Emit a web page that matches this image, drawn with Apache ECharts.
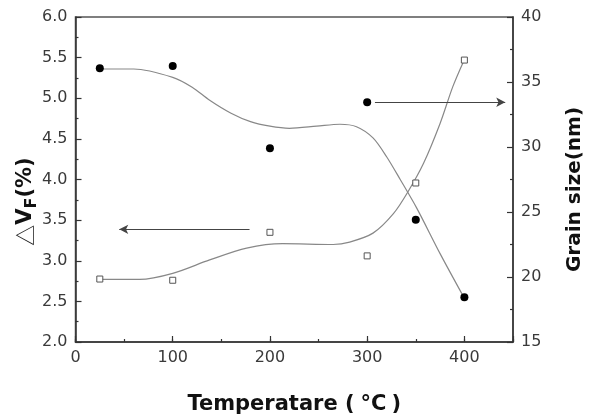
<!DOCTYPE html>
<html>
<head>
<meta charset="utf-8">
<script src="https://cdn.jsdelivr.net/npm/echarts@6/dist/echarts.min.js"></script>
<style>html,body{margin:0;padding:0;background:#fff}#c{width:604px;height:416px}</style>
</head>
<body>
<div id="c"></div>
<script>
// Measured points
var temps = [25, 100, 200, 300, 350, 400];
var grainSize = [36.05, 36.23, 29.9, 33.44, 24.41, 18.44];   // right axis (nm)
var deltaVF = [2.775, 2.76, 3.35, 3.06, 3.957, 5.47];        // left axis (%)

// Fitted curves
var fitGsX = [25, 60, 100, 120, 138, 160, 180, 200, 220, 248, 272, 289, 306, 320, 334, 351, 375, 399];
var fitGsY = [36.0, 36.0, 35.36, 34.6, 33.6, 32.6, 31.95, 31.6, 31.44, 31.6, 31.75, 31.56, 30.7, 29.25, 27.5, 25.3, 21.8, 18.5];
var fitVfX = [25, 66, 100, 138, 176, 213, 265, 282, 306, 327, 342, 358, 375, 388, 399];
var fitVfY = [2.77, 2.77, 2.845, 3.01, 3.155, 3.21, 3.2, 3.23, 3.34, 3.58, 3.85, 4.2, 4.69, 5.14, 5.45];

// Arrow annotations [x1, y1, x2, y2] in data units
var arrowRight = [308, 33.44, 442, 33.44];  // points to Grain size axis
var arrowLeft = [179, 3.387, 45, 3.387];    // points to ΔVF axis

function pairs(xs, ys) { return xs.map(function (x, i) { return [x, ys[i]]; }); }

var chart = echarts.init(document.getElementById('c'), null, {renderer: 'canvas'});
var labelStyle = {color: '#3a3a3a', fontFamily: 'DejaVu Sans', fontSize: 16};
var lineStyle = {color: '#333', width: 1.5};
var tickStyle = {color: '#333', width: 1.2};

chart.setOption({
  animation: false,
  backgroundColor: '#fff',
  grid: {left: 75.5, right: 91, top: 17, bottom: 74, containLabel: false, outerBoundsMode: 'none',
    show: true, borderColor: '#555', borderWidth: 1.5, backgroundColor: 'transparent'},
  xAxis: [{
    type: 'value', min: 0, max: 450, interval: 50,
    axisLine: {show: true, onZero: false, lineStyle: lineStyle},
    axisTick: {show: true, inside: true, length: 3, lineStyle: tickStyle},
    splitLine: {show: false},
    axisLabel: Object.assign({margin: 8, formatter: function (v) { return (v % 100 === 0 && v <= 400) ? String(v) : ''; }}, labelStyle),
    name: '{a|Temperatare (}{b|°C}{a|)}',
    nameLocation: 'middle', nameGap: 52,
    nameTextStyle: {rich: {
      a: {fontFamily: 'DejaVu Sans', fontWeight: 'bold', fontSize: 21, color: '#111'},
      b: {fontFamily: 'DejaVu Sans', fontWeight: 'bold', fontSize: 21, color: '#111', padding: [0, 5, 0, 6]}
    }}
  }, {
    type: 'value', min: 0, max: 450, interval: 100, position: 'bottom',
    axisLine: {show: false},
    axisTick: {show: true, inside: true, length: 6, lineStyle: tickStyle},
    splitLine: {show: false},
    axisLabel: {show: false}
  }],
  yAxis: [{
    type: 'value', min: 2, max: 6, interval: 0.5, position: 'left',
    axisLine: {show: true, onZero: false, lineStyle: lineStyle},
    axisTick: {show: true, inside: true, length: 6, lineStyle: tickStyle},
    minorTick: {show: true, splitNumber: 2, length: 3, lineStyle: tickStyle},
    splitLine: {show: false},
    axisLabel: Object.assign({margin: 8, formatter: function (v) { return v.toFixed(1); }}, labelStyle),
    name: '{t|△}{v|V}{s|F}{v|(%)}',
    nameLocation: 'middle', nameRotate: 90, nameGap: 36, nameMoveOverlap: false,
    nameTextStyle: {padding: [0, 44, 0, 0], rich: {
      t: {fontFamily: 'Noto Sans CJK SC', fontSize: 21, color: '#222', lineHeight: 28},
      v: {fontFamily: 'DejaVu Sans', fontWeight: 'bold', fontSize: 21, color: '#111', lineHeight: 28},
      s: {fontFamily: 'DejaVu Sans', fontWeight: 'bold', fontSize: 16, color: '#111', lineHeight: 18, verticalAlign: 'bottom'}
    }}
  }, {
    type: 'value', min: 15, max: 40, interval: 5, position: 'right',
    axisLine: {show: true, onZero: false, lineStyle: lineStyle},
    axisTick: {show: true, inside: true, length: 6, lineStyle: tickStyle},
    minorTick: {show: true, splitNumber: 2, length: 3, lineStyle: tickStyle},
    splitLine: {show: false},
    axisLabel: Object.assign({margin: 8}, labelStyle),
    name: 'Grain size(nm)',
    nameLocation: 'middle', nameRotate: 90, nameGap: 52,
    nameTextStyle: {fontFamily: 'DejaVu Sans', fontWeight: 'bold', fontSize: 20, color: '#111', padding: [0, 20, 0, 0]}
  }],
  series: [{
    type: 'line', xAxisIndex: 0, yAxisIndex: 1, smooth: 0.3,
    data: pairs(fitGsX, fitGsY), showSymbol: false, symbol: 'none',
    lineStyle: {color: '#888', width: 1.2}, z: 2
  }, {
    type: 'line', xAxisIndex: 0, yAxisIndex: 0, smooth: 0.3,
    data: pairs(fitVfX, fitVfY), showSymbol: false, symbol: 'none',
    lineStyle: {color: '#888', width: 1.2}, z: 2
  }, {
    type: 'scatter', xAxisIndex: 0, yAxisIndex: 1,
    data: pairs(temps, grainSize), symbol: 'circle', symbolSize: 8,
    itemStyle: {color: '#000', opacity: 1}, z: 5,
    markLine: {
      silent: true, symbol: ['none', 'arrow'], symbolSize: [7, 9],
      lineStyle: {color: '#444', width: 1.2, type: 'solid'}, label: {show: false},
      data: [[{coord: [arrowRight[0], arrowRight[1]]}, {coord: [arrowRight[2], arrowRight[3]]}]]
    }
  }, {
    type: 'scatter', xAxisIndex: 0, yAxisIndex: 0,
    data: pairs(temps, deltaVF), symbol: 'rect', symbolSize: 6,
    itemStyle: {color: '#fff', borderColor: '#555', borderWidth: 1, opacity: 1}, z: 5,
    markLine: {
      silent: true, symbol: ['none', 'arrow'], symbolSize: [7, 9],
      lineStyle: {color: '#444', width: 1.2, type: 'solid'}, label: {show: false},
      data: [[{coord: [arrowLeft[0], arrowLeft[1]]}, {coord: [arrowLeft[2], arrowLeft[3]]}]]
    }
  }]
});
</script>
</body>
</html>
